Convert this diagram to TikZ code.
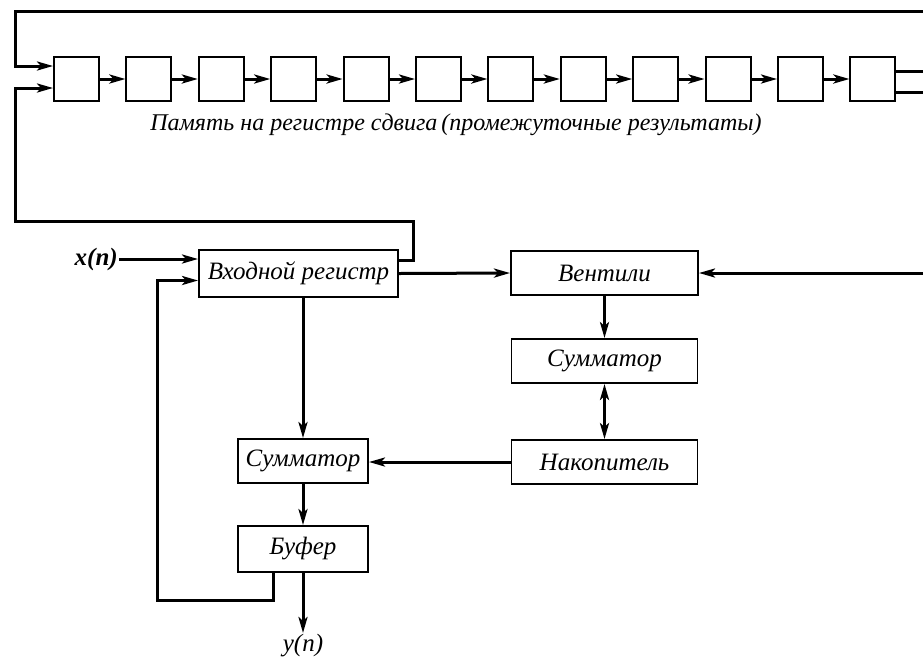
\documentclass[tikz,border=0pt]{standalone}
\usepackage{fontspec}
\setmainfont{Liberation Serif}
\usetikzlibrary{arrows.meta,calc}
\begin{document}
\begin{tikzpicture}[x=1pt,y=-1pt,
  blk/.style={draw, line width=1.9pt, inner sep=0pt,
    font=\fontsize{25}{28}\selectfont\itshape},
  cell/.style={draw, line width=1.9pt, minimum width=45pt, minimum height=44pt, inner sep=0pt},
  wire/.style={line width=3pt},
  arr/.style={wire, -{Stealth[length=16pt,width=9pt,inset=4pt]}},
  darr/.style={wire, {Stealth[length=16pt,width=9pt,inset=4pt]}-{Stealth[length=16pt,width=9pt,inset=4pt]}},
  lbl/.style={font=\fontsize{25}{28}\selectfont\itshape}]
\useasboundingbox (0,0) rectangle (923,657);

% shift-register memory cells
\foreach \i in {1,...,12}{
  \node[cell] (c\i) at ({76.5+72.4*(\i-1)}, 79) {};
}
\foreach \i [evaluate=\i as \j using int(\i+1)] in {1,...,11}{
  \draw[arr] (c\i.east) -- (c\j.west);
}
\node[lbl, font=\fontsize{24}{27}\selectfont\itshape] (cap) at (456,125)
  {Память на регистре сдвига\,(промежуточные результаты)};

% processing blocks
\node[blk, minimum width=199pt, minimum height=47pt] (in)   at (298.5,273.5) {Входной регистр};
\node[blk, minimum width=187pt, minimum height=44pt] (gate) at (604.5,273)   {Вентили};
\node[blk, minimum width=186pt, minimum height=44pt] (sumR) at (604.5,361)   {Сумматор};
\node[blk, minimum width=186pt, minimum height=44pt] (acc)  at (604.5,462)   {Накопитель};
\node[blk, minimum width=130pt, minimum height=44pt] (sumL) at (303,461)     {Сумматор};
\node[blk, minimum width=130pt, minimum height=46pt] (buf)  at (303,549)     {Буфер};

% free ends and bends
\coordinate (topL) at (15,11);
\coordinate (topR) at (923,11);
\coordinate (outA) at (923,71);
\coordinate (outB) at (923,92);
\coordinate (loopR) at (413,221);
\coordinate (loopL) at (15,221);
\coordinate (gin) at (923,273);
\coordinate (fb) at (157,600);
\node[lbl, anchor=east, inner sep=1pt] (xn) at (119,259) {\bfseries x(n)};
\node[lbl] (yn) at (303,646) {y(n)};
\coordinate (yend) at (303,633);

% recirculation of the shift register
\draw[arr] (topR) -- (topL) |- ($(c1.west)+(0,-13)$);
\draw[arr] ($(in.east)+(0,-13)$) -| (loopR) -- (loopL) |- ($(c1.west)+(0,9)$);
\draw[wire] (c12.east |- outA) -- (outA);
\draw[wire] (c12.east |- outB) -- (outB);

% data path
\draw[arr] (xn.east) -- (xn.east -| in.west);
\draw[arr] (in.east) -- (gate.west);
\draw[arr] (gin) -- (gate.east);
\draw[arr] (gate.south) -- (sumR.north);
\draw[darr] (sumR.south) -- (acc.north);
\draw[arr] (acc.west) -- (acc.west -| sumL.east);
\draw[arr] (sumL.north |- in.south) -- (sumL.north);
\draw[arr] (sumL.south) -- (buf.south |- buf.north);
\draw[arr] (buf.south) -- (yend);
\draw[arr] ($(buf.south)+(-30,0)$) |- (fb) |- ($(in.west)+(0,7)$);
\end{tikzpicture}
\end{document}
